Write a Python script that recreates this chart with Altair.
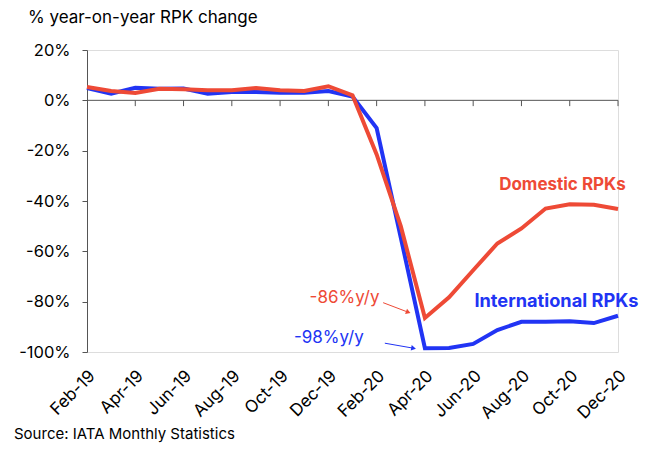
import altair as alt
import pandas as pd

months = ["Feb-19", "Mar-19", "Apr-19", "May-19", "Jun-19", "Jul-19", "Aug-19",
          "Sep-19", "Oct-19", "Nov-19", "Dec-19", "Jan-20", "Feb-20", "Mar-20",
          "Apr-20", "May-20", "Jun-20", "Jul-20", "Aug-20", "Sep-20", "Oct-20",
          "Nov-20", "Dec-20"]
domestic = [5.3, 3.7, 2.9, 4.6, 4.4, 4.0, 4.0, 4.9, 4.0, 3.7, 5.6, 2.0,
            -21.5, -50.0, -86.5, -78.3, -67.5, -56.9, -50.9, -43.0, -41.3, -41.5, -43.2]
international = [4.9, 2.6, 5.0, 4.6, 4.7, 2.6, 3.3, 3.3, 3.0, 3.0, 3.7, 1.5,
                 -11.0, -54.5, -98.5, -98.4, -96.8, -91.3, -88.0, -88.0, -87.8, -88.5, -85.6]
y_ticks = [-100, -80, -60, -40, -20, 0, 20]
x_ticks = list(range(0, 23, 2))

RED = "#EE4A36"
BLUE = "#2134F4"
FONT = "Inter"

rows = []
for i, m in enumerate(months):
    rows.append({"idx": i, "month": m, "series": "International RPKs", "value": international[i]})
    rows.append({"idx": i, "month": m, "series": "Domestic RPKs", "value": domestic[i]})
df = pd.DataFrame(rows)

label_js = "[" + ",".join("'" + m + "'" for m in months) + "][datum.value]"

xscale = alt.Scale(domain=[0, 22], nice=False, zero=False)
yscale = alt.Scale(domain=[-100, 20], nice=False, zero=False)

x_axis = alt.Axis(values=x_ticks, labelExpr=label_js, domain=False, ticks=False, grid=False,
                  labelAngle=-45, labelAlign="right", labelBaseline="middle",
                  labelPadding=21, labelOffset=5, labelOverlap=False, labelBound=False,
                  labelFont=FONT, labelFontSize=17, labelColor="#000",
                  title=None)
y_axis = alt.Axis(values=y_ticks, labelExpr="datum.value + '%'", grid=False,
                  domainColor="#555555", tickColor="#555555", tickSize=5,
                  labelPadding=12, labelFont=FONT, labelFontSize=16.5, labelColor="#000",
                  title=None)

lines = alt.Chart(df).mark_line(strokeWidth=4).encode(
    x=alt.X("idx:Q", scale=xscale, axis=x_axis),
    y=alt.Y("value:Q", scale=yscale, axis=y_axis),
    color=alt.Color("series:N", scale=alt.Scale(domain=["International RPKs", "Domestic RPKs"],
                                                range=[BLUE, RED]), legend=None),
    order=alt.Order("idx:Q"),
    detail="series:N",
)

zero_rule = alt.Chart(pd.DataFrame({"v": [0]})).mark_rule(color="#555555", strokeWidth=1).encode(
    y=alt.Y("v:Q", scale=yscale)
)

ticks_df = pd.DataFrame({"idx": x_ticks[1:], "y0": [0] * len(x_ticks[1:]),
                         "y1": [-2.3] * len(x_ticks[1:])})
x_tick_marks = alt.Chart(ticks_df).mark_rule(color="#555555", strokeWidth=1).encode(
    x=alt.X("idx:Q", scale=xscale), y=alt.Y("y0:Q", scale=yscale), y2="y1:Q"
)

labels_df = pd.DataFrame({
    "text": ["Domestic RPKs", "International RPKs", "-86%y/y", "-98%y/y"],
    "idx": [19.7, 19.45, 10.67, 10.02],
    "value": [-35.7, -82.3, -80.7, -96.3],
    "color": [RED, BLUE, RED, BLUE],
    "size": [17, 18.2, 17, 17],
})
bold_labels = alt.Chart(labels_df.iloc[:2]).mark_text(
    font=FONT, fontWeight="bold", align="center", baseline="alphabetic"
).encode(
    x=alt.X("idx:Q", scale=xscale), y=alt.Y("value:Q", scale=yscale),
    text="text:N", color=alt.Color("color:N", scale=None),
    size=alt.Size("size:Q", scale=None)
)
norm_labels = alt.Chart(labels_df.iloc[2:]).mark_text(
    font=FONT, fontWeight="normal", align="center", baseline="alphabetic"
).encode(
    x=alt.X("idx:Q", scale=xscale), y=alt.Y("value:Q", scale=yscale),
    text="text:N", color=alt.Color("color:N", scale=None),
    size=alt.Size("size:Q", scale=None)
)

arrows_df = pd.DataFrame({
    "x0": [12.27, 12.34], "y0": [-80.4, -96.5],
    "x1": [13.31, 13.53], "y1": [-84.2, -98.5],
    "color": [RED, BLUE], "angle": [21, 10],
})
arrow_lines = alt.Chart(arrows_df).mark_rule(strokeWidth=1).encode(
    x=alt.X("x0:Q", scale=xscale), y=alt.Y("y0:Q", scale=yscale),
    x2="x1:Q", y2="y1:Q", color=alt.Color("color:N", scale=None)
)
arrow_heads = alt.Chart(arrows_df).mark_point(shape="triangle-right", filled=True, size=30, opacity=1).encode(
    x=alt.X("x1:Q", scale=xscale), y=alt.Y("y1:Q", scale=yscale),
    color=alt.Color("color:N", scale=None), angle=alt.Angle("angle:Q", scale=None)
)

source = alt.Chart(pd.DataFrame({"t": ["Source: IATA Monthly Statistics"]})).mark_text(
    font=FONT, fontSize=15, align="left", baseline="alphabetic", color="#000"
).encode(x=alt.value(-73), y=alt.value(389), text="t:N")

title = alt.Chart(pd.DataFrame({"t": ["% year-on-year RPK change"]})).mark_text(
    font=FONT, fontSize=17, align="left", baseline="alphabetic", color="#000"
).encode(x=alt.value(-59), y=alt.value(-27), text="t:N")

chart = alt.layer(
    zero_rule, x_tick_marks, lines, bold_labels, norm_labels, arrow_lines, arrow_heads, source, title
).properties(
    width=531, height=302,
    autosize=alt.AutoSizeParams(type="none"),
    padding={"left": 79, "top": 42, "right": 22, "bottom": 92},
).configure_view(stroke=None).configure(background="white")

chart.save("out.html", embed_options={"renderer": "svg", "actions": False})
